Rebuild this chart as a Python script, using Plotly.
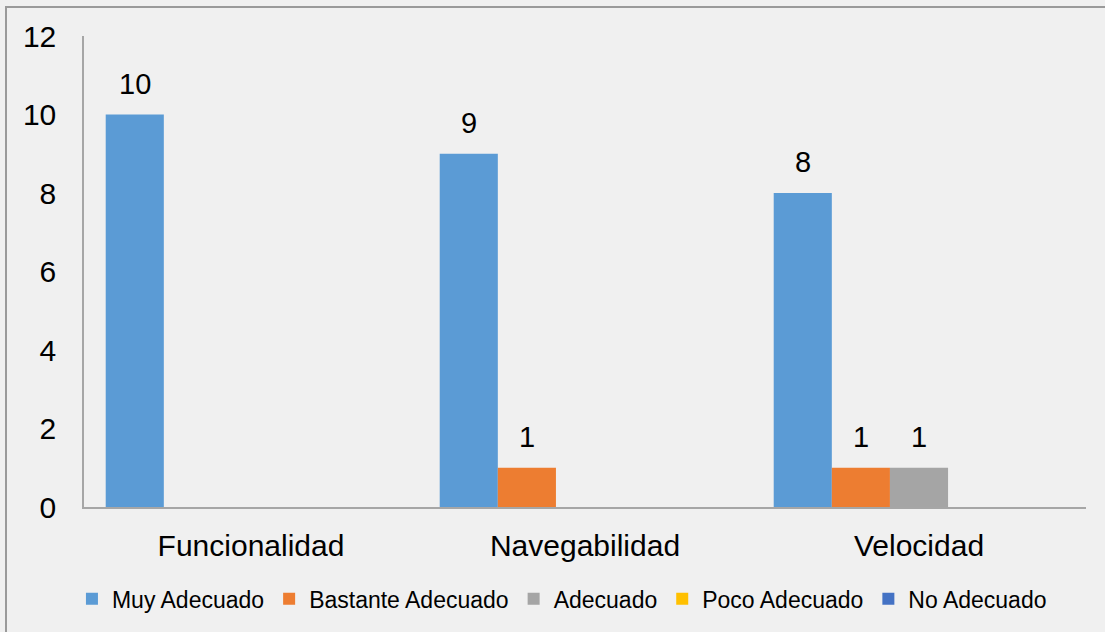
import plotly.graph_objects as go

categories = ["Funcionalidad", "Navegabilidad", "Velocidad"]
series_names = ["Muy Adecuado", "Bastante Adecuado", "Adecuado", "Poco Adecuado", "No Adecuado"]
muy_adecuado = [10, 9, 8]
bastante_adecuado = [None, 1, 1]
adecuado = [None, None, 1]
poco_adecuado = [None, None, None]
no_adecuado = [None, None, None]
y_ticks = [0, 2, 4, 6, 8, 10, 12]

series_values = [muy_adecuado, bastante_adecuado, adecuado, poco_adecuado, no_adecuado]
colors = ["#5B9BD5", "#ED7D31", "#A5A5A5", "#FFC000", "#4472C4"]

FONT = "Liberation Sans, Arial, sans-serif"

L, R, T, B = 84, 19, 36, 123
W, H = 1105, 632
pw, ph = W - L - R, H - T - B
BARGAP = 0.13
n_series = len(series_names)
bar_w = pw / len(categories) * (1 - BARGAP) / n_series

fig = go.Figure()
annotations = []
for i, (name, vals, col) in enumerate(zip(series_names, series_values, colors)):
    fig.add_trace(go.Bar(
        x=categories, y=vals, name=name,
        marker=dict(color=col, line=dict(width=0)),
    ))
    for c, v in zip(categories, vals):
        if v is None:
            continue
        annotations.append(dict(
            x=c, y=v, xref="x", yref="y", text=str(v), showarrow=False,
            xshift=(i - (n_series - 1) / 2) * bar_w, yshift=31,
            xanchor="center", yanchor="middle",
            font=dict(family=FONT, size=29, color="#000000"),
        ))

fig.update_layout(
    width=W, height=H,
    margin=dict(l=L, r=R, t=T, b=B, pad=0),
    paper_bgcolor="#F0F0F0",
    plot_bgcolor="#F0F0F0",
    barmode="group",
    bargap=BARGAP,
    bargroupgap=0,
    font=dict(family=FONT, color="#000000"),
    showlegend=True,
    legend=dict(
        orientation="h", x=0.477, xanchor="center", y=-0.195, yanchor="middle",
        font=dict(family=FONT, size=23, color="#000000"),
        itemwidth=30, traceorder="normal", bgcolor="rgba(0,0,0,0)",
        tracegroupgap=0,
    ),
    xaxis=dict(
        showline=True, linecolor="#A6A6A6", linewidth=1.5,
        showgrid=False, ticks="", ticklabelstandoff=11,
        tickfont=dict(family=FONT, size=30, color="#000000"),
    ),
    yaxis=dict(
        range=[0, 12], tickvals=y_ticks, showline=True, linecolor="#A6A6A6",
        linewidth=1.5, showgrid=False, zeroline=False, ticks="",
        ticklabelstandoff=20,
        tickfont=dict(family=FONT, size=30, color="#000000"),
    ),
    annotations=annotations,
    shapes=[dict(
        type="rect", xref="paper", yref="paper",
        x0=(6 - L) / pw, x1=(W + 10 - L) / pw,
        y0=(H - B - (H + 10)) / ph, y1=(H - B - 7) / ph,
        line=dict(color="#9A9A9A", width=2), fillcolor="rgba(0,0,0,0)",
        layer="below",
    )],
)

fig.write_html(
    "out.html",
    config={"displayModeBar": False},
    post_script="document.body.style.margin='0';document.body.style.background='#F0F0F0';",
)
